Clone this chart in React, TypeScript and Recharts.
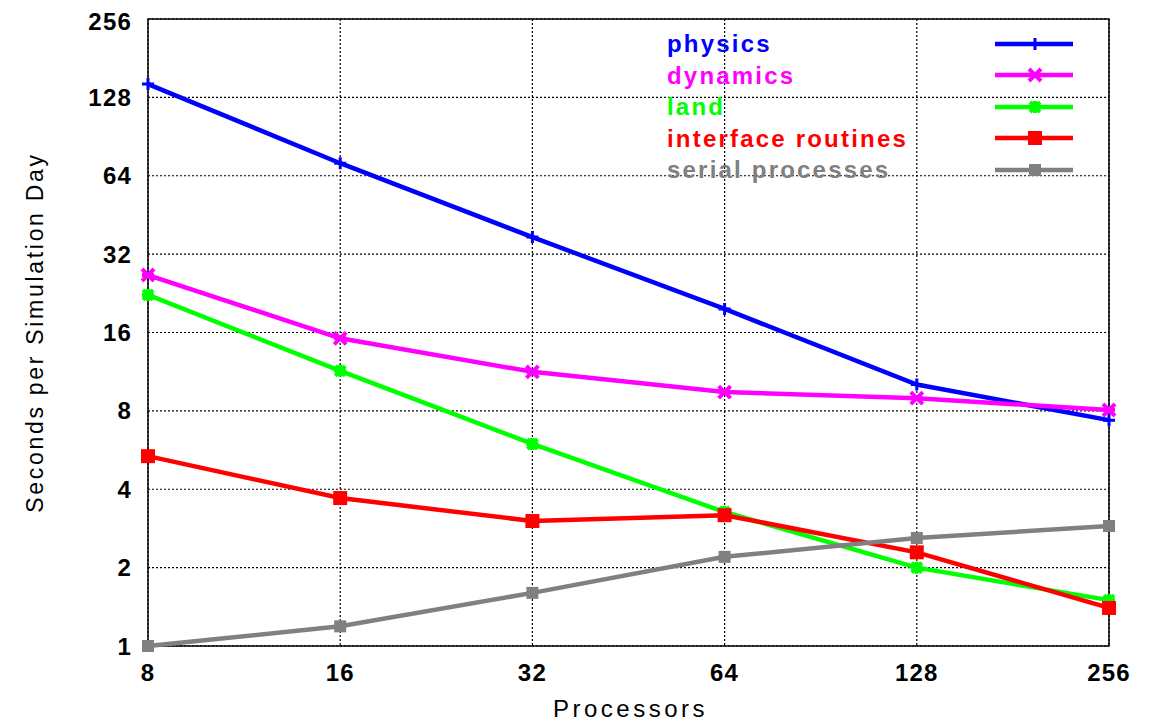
import {
  CartesianGrid,
  Legend,
  Line,
  LineChart,
  ReferenceArea,
  XAxis,
  YAxis,
} from "recharts";

const processors = [8, 16, 32, 64, 128, 256];
const physics = [144, 71.5, 37.2, 19.7, 10.1, 7.37];
const dynamics = [26.6, 15.2, 11.3, 9.45, 8.95, 8.06];
const land = [22.3, 11.4, 5.97, 3.27, 2.0, 1.5];
const interfaceRoutines = [5.36, 3.7, 3.02, 3.18, 2.29, 1.4];
const serialProcesses = [1.0, 1.19, 1.6, 2.2, 2.6, 2.89];

const xTicks = [8, 16, 32, 64, 128, 256];
const yTicks = [1, 2, 4, 8, 16, 32, 64, 128, 256];

type Marker = "plus" | "cross" | "star" | "square" | "bigSquare";

const series: Array<{ key: string; name: string; color: string; marker: Marker }> = [
  { key: "physics", name: "physics", color: "#0000ff", marker: "plus" },
  { key: "dynamics", name: "dynamics", color: "#ff00ff", marker: "cross" },
  { key: "land", name: "land", color: "#00ff00", marker: "star" },
  { key: "interface", name: "interface routines", color: "#ff0000", marker: "bigSquare" },
  { key: "serial", name: "serial processes", color: "#808080", marker: "square" },
];

const data = processors.map((p, i) => ({
  processors: p,
  physics: physics[i],
  dynamics: dynamics[i],
  land: land[i],
  interface: interfaceRoutines[i],
  serial: serialProcesses[i],
}));

const FONT = "'Liberation Sans', Arial, sans-serif";

function markerShape(marker: Marker, cx: number, cy: number, color: string, key?: string) {
  switch (marker) {
    case "plus":
      return (
        <path key={key} d={`M${cx - 6},${cy}H${cx + 6}M${cx},${cy - 6}V${cy + 6}`} stroke={color} strokeWidth={3} fill="none" />
      );
    case "cross":
      return (
        <path
          key={key}
          d={`M${cx - 6},${cy - 6}L${cx + 6},${cy + 6}M${cx - 6},${cy + 6}L${cx + 6},${cy - 6}M${cx - 6},${cy}H${cx + 6}`}
          stroke={color}
          strokeWidth={4}
          fill="none"
        />
      );
    case "star":
      return (
        <path
          key={key}
          d={`M${cx - 5},${cy - 5}L${cx + 5},${cy + 5}M${cx - 5},${cy + 5}L${cx + 5},${cy - 5}M${cx - 6},${cy}H${cx + 6}M${cx},${cy - 6}V${cy + 6}`}
          stroke={color}
          strokeWidth={4}
          fill="none"
        />
      );
    case "bigSquare":
      return <rect key={key} x={cx - 7} y={cy - 7} width={14} height={14} fill={color} />;
    default:
      return <rect key={key} x={cx - 6} y={cy - 6} width={12} height={12} fill={color} />;
  }
}

function makeDot(marker: Marker, color: string) {
  return (props: any) => markerShape(marker, props.cx, props.cy, color, `${marker}-${props.index}`);
}

function ChartLegend() {
  return (
    <div style={{ width: 406 }}>
      {series.map((s) => (
        <div
          key={s.key}
          style={{
            height: 31.5,
            display: "flex",
            alignItems: "center",
            justifyContent: "space-between",
          }}
        >
          <span
            style={{
              color: s.color,
              fontFamily: FONT,
              fontWeight: 700,
              fontSize: 24,
              letterSpacing: 2.2,
              lineHeight: "31px",
            }}
          >
            {s.name}
          </span>
          <svg width={78} height={20}>
            <line x1={0} y1={10} x2={78} y2={10} stroke={s.color} strokeWidth={4.5} />
            {markerShape(s.marker, 40, 10, s.color)}
          </svg>
        </div>
      ))}
    </div>
  );
}

const tickStyle = {
  fill: "#000",
  fontSize: 24,
  fontWeight: 700,
  fontFamily: FONT,
  letterSpacing: 1.2,
};

export default function App() {
  return (
    <div style={{ width: 1150, height: 715 }}>
      <LineChart width={1150} height={715} data={data} margin={{ top: 11, right: 49, bottom: 0, left: 0 }}>
        <CartesianGrid stroke="#000" strokeDasharray="2 2" strokeWidth={1.2} />
        <XAxis
          dataKey="processors"
          type="number"
          scale="log"
          domain={[8, 256]}
          ticks={xTicks}
          tick={tickStyle}
          tickSize={0}
          tickMargin={18}
          axisLine={false}
          height={77}
          label={{
            content: (props: any) => {
              const vb = props.viewBox;
              return (
                <text
                  x={vb.x + vb.width / 2 + 2}
                  y={vb.y + 71}
                  textAnchor="middle"
                  fontFamily={FONT}
                  fontSize={24}
                  letterSpacing={3.5}
                  fill="#000"
                >
                  Processors
                </text>
              );
            },
          }}
        />
        <YAxis
          type="number"
          scale="log"
          domain={[1, 256]}
          ticks={yTicks}
          tick={tickStyle}
          tickSize={0}
          tickMargin={16}
          axisLine={false}
          width={140}
          label={{
            content: (props: any) => {
              const vb = props.viewBox;
              const cx = vb.x + 27;
              const cy = vb.y + vb.height / 2;
              return (
                <text
                  x={cx}
                  y={cy}
                  transform={`rotate(-90, ${cx}, ${cy})`}
                  textAnchor="middle"
                  dominantBaseline="central"
                  fontFamily={FONT}
                  fontSize={23}
                  letterSpacing={2.7}
                  fill="#000"
                >
                  Seconds per Simulation Day
                </text>
              );
            },
          }}
        />
        <ReferenceArea x1={8} x2={256} y1={1} y2={256} fill="none" stroke="#000" strokeWidth={1.5} ifOverflow="visible" />
        {series.map((s) => (
          <Line
            key={s.key}
            dataKey={s.key}
            name={s.name}
            type="linear"
            stroke={s.color}
            strokeWidth={4.5}
            dot={makeDot(s.marker, s.color)}
            activeDot={false}
            isAnimationActive={false}
          />
        ))}
        <Legend
          layout="horizontal"
          verticalAlign="middle"
          align="center"
          content={() => <ChartLegend />}
          wrapperStyle={{ left: 659, top: 20, width: 406 }}
        />
      </LineChart>
    </div>
  );
}
